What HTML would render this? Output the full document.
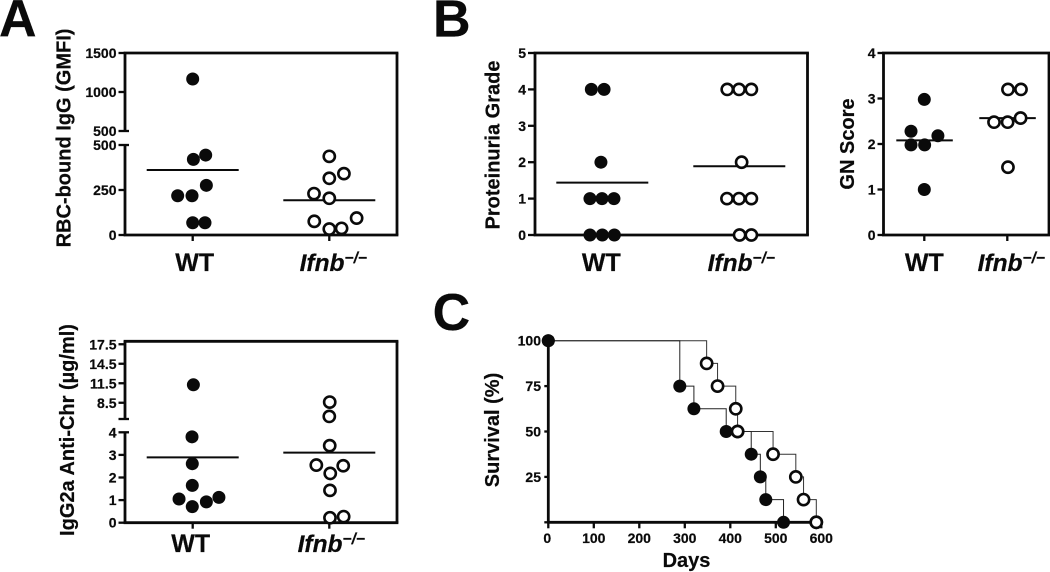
<!DOCTYPE html>
<html lang="en">
<head>
<meta charset="utf-8">
<title>Autoantibody, proteinuria, GN score and survival in WT and Ifnb knockout mice</title>
<style>
html,body{margin:0;padding:0;background:#fff;width:1050px;height:572px;overflow:hidden}
svg{display:block}
text{font-family:"Liberation Sans",Arial,sans-serif;font-weight:bold;fill:#0a0a0a;stroke:#0a0a0a;stroke-width:.2px}
</style>
</head>
<body>
<svg id="fig" xmlns="http://www.w3.org/2000/svg" width="1050" height="572" viewBox="0 0 1050 572">
<rect width="1050" height="572" fill="#fff"/>
<text x="-1" y="36" font-size="52">A</text>
<text x="433" y="36.5" font-size="52">B</text>
<text x="432.6" y="330" font-size="52">C</text>
<text transform="translate(70.5,138) rotate(-90)" text-anchor="middle" font-size="20">RBC-bound IgG (GMFI)</text>
<text transform="translate(499.5,145) rotate(-90)" text-anchor="middle" font-size="20">Proteinuria Grade</text>
<text transform="translate(854,144) rotate(-90)" text-anchor="middle" font-size="20">GN Score</text>
<text transform="translate(74,430) rotate(-90)" text-anchor="middle" font-size="20">IgG2a Anti-Chr (µg/ml)</text>
<text transform="translate(499,430) rotate(-90)" text-anchor="middle" font-size="20">Survival (%)</text>
<text x="686.5" y="567" text-anchor="middle" font-size="20">Days</text>
</svg>
<script>
// Group labels
const groupWt = "WT";
const groupKoName = "Ifnb";
const groupKoSup = "\u2212/\u2212";

// RBC-bound IgG (GMFI)
const rbcWtCat = [1.0, 1.095, 1.005, 1.10, 0.89, 0.995, 1.0, 1.09];
const rbcWtVal = [1167, 444, 420, 276, 218, 218, 68, 68];
const rbcKoCat = [2.0, 2.107, 2.0, 1.888, 2.0, 1.89, 2.2, 2.0, 2.09];
const rbcKoVal = [437, 341, 315, 230, 204, 76, 94, 33, 37];
const rbcMeans = [361, 193];
const rbcLowTicks = [0, 250, 500];
const rbcHighTicks = [500, 1000, 1500];

// Proteinuria grade
const protWtCat = [0.92, 1.013, 0.99, 0.91, 0.998, 1.085, 0.91, 1.0, 1.088];
const protWtVal = [4, 4, 2, 1, 1, 1, 0, 0, 0];
const protKoCat = [1.912, 1.998, 2.088, 2.017, 1.91, 1.998, 2.088, 2.002, 2.088];
const protKoVal = [4, 4, 4, 2, 1, 1, 1, 0, 0];
const protMeans = [1.44, 1.89];
const protTicks = [0, 1, 2, 3, 4, 5];

// GN score
const gnWtCat = [1.0, 0.84, 1.164, 0.84, 1.004, 1.0];
const gnWtVal = [2.98, 2.28, 2.18, 1.98, 1.98, 1.0];
const gnKoCat = [2.008, 2.165, 1.84, 2.004, 2.16, 2.008];
const gnKoVal = [3.2, 3.2, 2.48, 2.48, 2.57, 1.49];
const gnMeans = [2.08, 2.57];
const gnTicks = [0, 1, 2, 3, 4];

// IgG2a anti-chromatin
const chrWtCat = [1.005, 0.995, 0.997, 0.997, 0.9, 0.997, 1.1, 1.192];
const chrWtVal = [11.26, 3.8, 2.61, 1.65, 1.05, 0.71, 0.92, 1.12];
const chrKoCat = [2.003, 2.0, 2.003, 1.905, 2.102, 2.007, 2.005, 2.005, 2.105];
const chrKoVal = [8.6, 6.4, 3.41, 2.55, 2.52, 2.18, 1.43, 0.22, 0.27];
const chrMeans = [2.89, 3.1];
const chrLowTicks = [0, 1, 2, 3, 4];
const chrHighTicks = [6, 8.5, 11.5, 14.5, 17.5];
const chrHighLabels = ["", "8.5", "11.5", "14.5", "17.5"];

// Survival
const survWtDays = [0, 289, 320, 391, 446, 466, 478, 517];
const survWtPct = [100, 75, 62.5, 50, 37.5, 25, 12.5, 0];
const survKoDays = [0, 348, 372, 412, 416, 494, 544, 561, 589];
const survKoPct = [100, 87.5, 75, 62.5, 50, 37.5, 25, 12.5, 0];
const survXTicks = [0, 100, 200, 300, 400, 500, 600];
const survYTicks = [0, 25, 50, 75, 100];
const survYLabels = ["", "25", "50", "75", "100"];

const svg = document.getElementById('fig');
const NS = 'http://www.w3.org/2000/svg';
const INK = '#0a0a0a';
const AXIS_W = 2.8;
const TICK_W = 2.3;

function node(tag, attrs, name) {
  const el = document.createElementNS(NS, tag);
  for (const k in attrs) el.setAttribute(k, attrs[k]);
  
  
  svg.appendChild(el);
  return el;
}
function line(x1, y1, x2, y2, w, name) {
  return node('line', {x1, y1, x2, y2, stroke: INK, 'stroke-width': w}, name);
}
function tickLabel(x, y, txt, anchor, name) {
  const t = node('text', {x, y, 'text-anchor': anchor, 'font-size': 14}, name);
  t.textContent = txt;
  return t;
}
function dot(x, y, open, name) {
  if (open) return node('circle', {cx: x, cy: y, r: 5.6, fill: '#fff', stroke: INK, 'stroke-width': 2.6}, name);
  return node('circle', {cx: x, cy: y, r: 6.5, fill: INK}, name);
}
function groupLabels(xWt, xKo, y, koShift) {
  const a = node('text', {x: xWt, y, 'text-anchor': 'middle', 'font-size': 25}, 'wt-group-label');
  a.textContent = groupWt;
  const b = node('text', {x: xKo + koShift, y, 'text-anchor': 'middle', 'font-size': 24.5}, 'ifnb-group-label');
  const s1 = document.createElementNS(NS, 'tspan');
  s1.setAttribute('font-style', 'italic');
  s1.textContent = groupKoName;
  const s2 = document.createElementNS(NS, 'tspan');
  s2.setAttribute('font-size', '15.5');
  s2.setAttribute('dy', '-8');
  s2.setAttribute('font-style', 'italic');
  s2.textContent = groupKoSup;
  b.appendChild(s1);
  b.appendChild(s2);
}

// cfg: frame box, category axis, y-scale function, tick sets, breaks
function dotPanel(c) {
  const xs = v => c.x1 + (v - 1) * c.xStep;
  // frame
  line(c.left - 1.4, c.top, c.right + 1.4, c.top, AXIS_W, c.id + '-frame-top');
  line(c.right, c.top, c.right, c.bottom, AXIS_W, c.id + '-frame-right');
  line(c.left - 1.4, c.bottom, c.right + 1.4, c.bottom, AXIS_W, c.id + '-x-axis');
  c.spines.forEach(s => line(c.left, c.ys(s[0], s[2]), c.left, c.ys(s[1], s[2]), AXIS_W, c.id + '-y-axis-segment'));
  c.ticks.forEach(t => {
    const y = c.ys(t.v, t.seg);
    line(c.left - c.tickLen, y, c.left + (t.cross || 0), y, TICK_W, c.id + '-y-tick');
    if (t.label !== '') tickLabel(c.left - c.tickLen - 2, y + 5, t.label, 'end', c.id + '-y-tick-label');
  });
  [1, 2].forEach(k => line(xs(k), c.bottom, xs(k), c.bottom + 6, TICK_W, c.id + '-x-tick'));
  // means
  c.means.forEach((m, i) => {
    const g = i + 1;
    line(xs(g) + c.meanFrom[i], c.ys(m, 'low'), xs(g) + c.meanTo[i], c.ys(m, 'low'), 2, c.id + '-mean-line');
  });
  c.wt.cat.forEach((cv, i) => dot(xs(cv), c.ys(c.wt.val[i], c.wt.val[i] > c.splitAt ? 'high' : 'low'), false, c.id + '-wt-point'));
  c.ko.cat.forEach((cv, i) => dot(xs(cv), c.ys(c.ko.val[i], c.ko.val[i] > c.splitAt ? 'high' : 'low'), true, c.id + '-ifnb-point'));
  groupLabels(xs(1) + c.labelShift[0], xs(2), c.labelY, c.labelShift[1]);
}
function scale(d0, d1, p0, p1) { return v => p0 + (v - d0) * (p1 - p0) / (d1 - d0); }

// Panel A top
const rbcLow = scale(0, 500, 235, 145);
const rbcHigh = scale(500, 1500, 131, 53);
dotPanel({
  id: 'rbc', left: 125, right: 397, top: 53, bottom: 235, tickLen: 6.5, x1: 192.7, xStep: 136.6,
  ys: (v, seg) => seg === 'high' ? rbcHigh(v) : rbcLow(v), splitAt: 500,
  spines: [[0, 500, 'low'], [500, 1500, 'high']],
  ticks: rbcLowTicks.map(v => ({v, seg: 'low', label: String(v), cross: v === 500 ? 4 : 0}))
    .concat(rbcHighTicks.map(v => ({v, seg: 'high', label: String(v), cross: v === 500 ? 4 : 0}))),
  means: rbcMeans, meanFrom: [-46, -46], meanTo: [46, 46],
  wt: {cat: rbcWtCat, val: rbcWtVal}, ko: {cat: rbcKoCat, val: rbcKoVal},
  labelShift: [2, 4], labelY: 271
});

// Panel B left
const protY = scale(0, 5, 235, 53);
dotPanel({
  id: 'proteinuria', left: 535, right: 807.5, top: 53, bottom: 235, tickLen: 7, x1: 602.3, xStep: 137,
  ys: v => protY(v), splitAt: 99,
  spines: [[0, 5, 'low']],
  ticks: protTicks.map(v => ({v, seg: 'low', label: String(v)})),
  means: protMeans, meanFrom: [-46, -46], meanTo: [46, 46],
  wt: {cat: protWtCat, val: protWtVal}, ko: {cat: protKoCat, val: protKoVal},
  labelShift: [-1, 2], labelY: 271
});

// Panel B right
const gnY = scale(0, 4, 235, 53);
dotPanel({
  id: 'gn', left: 883.5, right: 1049, top: 53, bottom: 235, tickLen: 6, x1: 924.3, xStep: 83,
  ys: v => gnY(v), splitAt: 99,
  spines: [[0, 4, 'low']],
  ticks: gnTicks.map(v => ({v, seg: 'low', label: String(v)})),
  means: gnMeans, meanFrom: [-28, -28], meanTo: [28.5, 28.5],
  wt: {cat: gnWtCat, val: gnWtVal}, ko: {cat: gnKoCat, val: gnKoVal},
  labelShift: [0, 4], labelY: 271
});

// Panel A bottom
const chrLow = scale(0, 4, 522.7, 432.3);
const chrHigh = scale(6, 18, 419, 341);
dotPanel({
  id: 'igg2a', left: 125, right: 397, top: 341.3, bottom: 522.7, tickLen: 6.5, x1: 192.7, xStep: 136.6,
  ys: (v, seg) => seg === 'high' ? chrHigh(v) : chrLow(v), splitAt: 5,
  spines: [[0, 4, 'low'], [6, 18, 'high']],
  ticks: chrLowTicks.map(v => ({v, seg: 'low', label: String(v), cross: v === 4 ? 4 : 0}))
    .concat(chrHighTicks.map((v, i) => ({v, seg: 'high', label: chrHighLabels[i], cross: v === 6 ? 4 : 0}))),
  means: chrMeans, meanFrom: [-46, -46], meanTo: [46, 46],
  wt: {cat: chrWtCat, val: chrWtVal}, ko: {cat: chrKoCat, val: chrKoVal},
  labelShift: [-2, 2], labelY: 552
});

// Panel C
const sx = scale(0, 600, 548.3, 821.3);
const sy = scale(0, 100, 522.3, 340.7);
function stepPath(days, pct) {
  let d = 'M' + sx(days[0]) + ' ' + sy(pct[0]);
  for (let i = 1; i < days.length; i++) {
    d += 'H' + sx(days[i]) + 'V' + sy(pct[i]);
  }
  return d;
}
node('path', {d: stepPath(survKoDays, survKoPct), fill: 'none', stroke: '#333', 'stroke-width': 1}, 'survival-ifnb-curve');
node('path', {d: stepPath(survWtDays, survWtPct), fill: 'none', stroke: '#222', 'stroke-width': 1}, 'survival-wt-curve');
line(sx(0), sy(100), sx(0), sy(0) + 1, AXIS_W, 'survival-y-axis');
line(sx(0) - 1, sy(0), sx(600) + 1, sy(0), AXIS_W, 'survival-x-axis');
survXTicks.forEach(v => {
  line(sx(v), sy(0), sx(v), sy(0) + 6, TICK_W, 'survival-x-tick');
  tickLabel(sx(v) - (v === 0 ? 1 : 0), 543, String(v), 'middle', 'survival-x-tick-label');
});
survYTicks.forEach((v, i) => {
  line(sx(0) - 4, sy(v), sx(0), sy(v), TICK_W, 'survival-y-tick');
  if (survYLabels[i] !== '') tickLabel(541, sy(v) + 5, survYLabels[i], 'end', 'survival-y-tick-label');
});
survKoDays.forEach((d, i) => dot(sx(d), sy(survKoPct[i]), i > 0, i > 0 ? 'survival-ifnb-point' : 'survival-start-point'));
survWtDays.forEach((d, i) => {
  if (d !== 0 || i === 0) dot(sx(d), sy(survWtPct[i]), false, 'survival-wt-point');
});
// Open markers at 416 and 589 sit on top of filled markers in the reference
dot(sx(survKoDays[4]), sy(survKoPct[4]), true, 'survival-ifnb-point-top');
dot(sx(survKoDays[8]), sy(survKoPct[8]), true, 'survival-ifnb-point-top');
</script>
</body>
</html>
